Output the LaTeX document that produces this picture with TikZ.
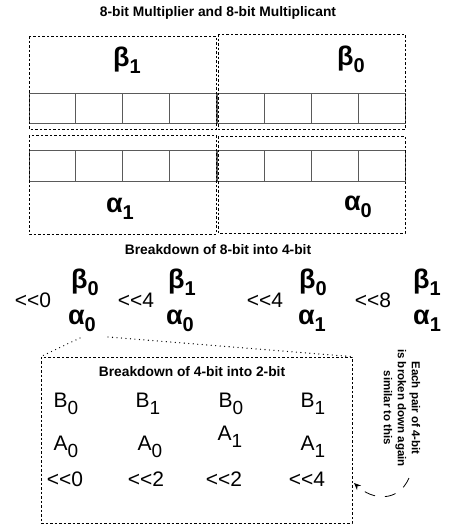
\documentclass[tikz,border=0pt]{standalone}
\usepackage{fontspec}
\usepackage{tikz}
\usepackage{xcolor}
\usetikzlibrary{arrows.meta}
\setmainfont{Liberation Sans}
\definecolor{cellcolor}{RGB}{90,90,90}
\newcommand{\lowsub}[2][20]{\raisebox{-7pt}{\fontsize{#1}{#1}\selectfont #2}}
\newcommand{\shl}{<\kern0pt<} % two separate "<" signs, no guillemet

\begin{document}
\begin{tikzpicture}[x=1pt, y=-1pt, % pixel coordinates, y going down
    ttl/.style={font=\fontsize{13.8}{16}\selectfont\bfseries, inner sep=0pt},
    grk/.style={font=\fontsize{27}{29}\selectfont\bfseries, inner sep=0pt},
    shft/.style={font=\fontsize{21}{23}\selectfont, inner sep=0pt},
    lat/.style={font=\fontsize{21}{23}\selectfont, inner sep=0pt},
    note/.style={font=\fontsize{11.5}{14}\selectfont\bfseries, align=center, rotate=-90, inner sep=0pt},
    dashbox/.style={draw, line width=0.7pt, dash pattern=on 2.5pt off 2pt},
    cell/.style={draw=cellcolor, line width=0.8pt},
    dotline/.style={line width=1.3pt, line cap=round, dash pattern=on 0pt off 4.5pt},
    curvarrow/.style={line width=0.8pt, dash pattern=on 11pt off 10pt, -{Stealth[length=7pt, width=6pt]}}]

    \useasboundingbox (0,0) rectangle (448,525); % keep the page size

    % Top title
    \node[ttl] (ttlTop) at (218,13) {8-bit Multiplier and 8-bit Multiplicant};

    % Cells of both 8-bit numbers
    \foreach \i in {0,...,3} {
        \draw[cell] (29+46.75*\i,93) rectangle (29+46.75*\i+46.75,123); % beta, left half
        \draw[cell] (217.5+46.9*\i,93) rectangle (217.5+46.9*\i+46.9,123); % beta, right half
        \draw[cell] (29+46.75*\i,150) rectangle (29+46.75*\i+46.75,181); % alpha, left half
        \draw[cell] (217.5+46.9*\i,150) rectangle (217.5+46.9*\i+46.9,181); % alpha, right half
    }

    % Dashed boxes round each 4-bit half
    \draw[dashbox] (29,36) rectangle (216,129); % beta 1
    \draw[dashbox] (218,34) rectangle (405,129); % beta 0
    \draw[dashbox] (29,135) rectangle (216,234); % alpha 1
    \draw[dashbox] (218,136) rectangle (405,233); % alpha 0

    % Names of the halves
    \node[grk] (bOne) at (127,60) {β\lowsub{1}};
    \node[grk] (bZero) at (351,59) {β\lowsub{0}};
    \node[grk] (aOne) at (120,209) {α\lowsub{1}};
    \node[grk] (aZero) at (358,207) {α\lowsub{0}};

    % Middle title
    \node[ttl] (ttlMid) at (218,250) {Breakdown of 8-bit into 4-bit};

    % Pairs of 4-bit parts with their shifts
    \node[shft] (sA) at (33,300) {\shl0};
    \node[grk] (pbA) at (85,282) {β\lowsub{0}};
    \node[grk] (paA) at (82,321) {α\lowsub{0}};
    \node[shft] (sB) at (136,300) {\shl4};
    \node[grk] (pbB) at (182,282) {β\lowsub{1}};
    \node[grk] (paB) at (180,321) {α\lowsub{0}};
    \node[shft] (sC) at (265,300) {\shl4};
    \node[grk] (pbC) at (313,282) {β\lowsub{0}};
    \node[grk] (paC) at (312,321) {α\lowsub{1}};
    \node[shft] (sD) at (373,300) {\shl8};
    \node[grk, anchor=west] (pbD) at (413,282) {β\lowsub{1}};
    \node[grk, anchor=west] (paD) at (413,321) {α\lowsub{1}};

    % Box of the 4-bit into 2-bit breakdown
    \node[dashbox, minimum width=311pt, minimum height=166pt, inner sep=0pt] (lowBox) at (196.5,440) {};
    \node[ttl] (ttlLow) at (192,372) {Breakdown of 4-bit into 2-bit};

    % Dotted lines from the first pair down to the box
    \coordinate (dotA) at (80,338);
    \coordinate (dotB) at (108,337);
    \draw[dotline] (dotA) -- (lowBox.north west);
    \draw[dotline] (dotB) -- (lowBox.north east);

    % 2-bit parts
    \node[lat] (lbA) at (66,404) {B\lowsub[19]{0}};
    \node[lat] (lbB) at (148,404) {B\lowsub[19]{1}};
    \node[lat] (lbC) at (231,404) {B\lowsub[19]{0}};
    \node[lat] (lbD) at (313,404) {B\lowsub[19]{1}};
    \node[lat] (laA) at (66,447) {A\lowsub[19]{0}};
    \node[lat] (laB) at (150,447) {A\lowsub[19]{0}};
    \node[lat] (laC) at (230,437) {A\lowsub[19]{1}};
    \node[lat] (laD) at (313,447) {A\lowsub[19]{1}};
    \node[shft] (lsA) at (65,479) {\shl0};
    \node[shft] (lsB) at (146,479) {\shl2};
    \node[shft] (lsC) at (224,479) {\shl2};
    \node[shft] (lsD) at (307,479) {\shl4};

    % Side note and its arrow
    \node[note] (sideNote) at (402,408) {Each pair of 4-bit\\is broken down again\\similar to this};
    \coordinate (arcStart) at (409,478);
    \coordinate (arcEnd) at (354,483);
    \draw[curvarrow] (arcStart) .. controls (398,503) and (372,500) .. (arcEnd);

\end{tikzpicture}
\end{document}
